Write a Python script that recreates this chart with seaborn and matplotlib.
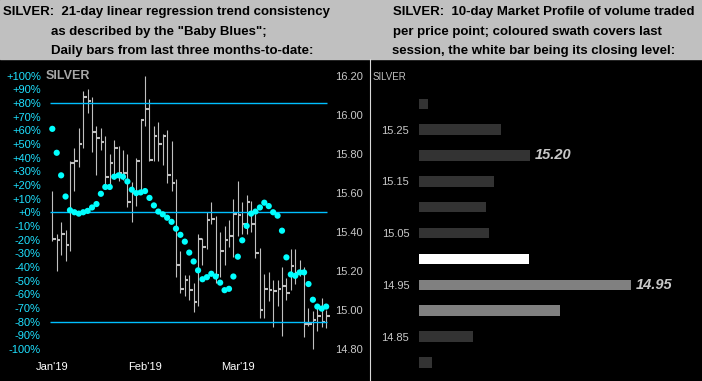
"""Silver: Baby Blues trend consistency and 10-day market profile."""

import matplotlib

matplotlib.use("Agg")
import matplotlib.pyplot as plt
import numpy as np
import seaborn as sns
from matplotlib.lines import Line2D
from matplotlib.patches import Rectangle

# daily sessions, Jan'19 .. end of Mar'19
highs = [
    15.61, 15.39, 15.45, 15.41, 15.76, 15.83, 15.93, 16.12, 16.13, 16.09,
    15.94, 15.93, 15.89, 15.80, 15.87, 15.84, 15.82, 15.80, 15.655, 15.78,
    15.98, 16.20, 16.08, 15.94, 15.96, 15.90, 15.92, 15.865, 15.67, 15.30,
    15.18, 15.18, 15.14, 15.39, 15.37, 15.50, 15.555, 15.48, 15.40, 15.43,
    15.46, 15.57, 15.66, 15.55, 15.59, 15.56, 15.49, 15.315, 15.185, 15.195,
    15.155, 15.155, 15.22, 15.165, 15.31, 15.31, 15.255, 15.22, 15.01, 14.995,
    15.01, 15.06, 15.00,
]
lows = [
    15.355, 15.20, 15.28, 15.25, 15.30, 15.61, 15.73, 15.83, 16.01, 15.81,
    15.69, 15.82, 15.645, 15.64, 15.67, 15.66, 15.665, 15.525, 15.45, 15.53,
    15.61, 15.94, 15.76, 15.76, 15.76, 15.74, 15.65, 15.61, 15.17, 15.085,
    15.07, 15.05, 14.99, 15.02, 15.23, 15.31, 15.44, 15.14, 15.17, 15.23,
    15.32, 15.27, 15.38, 15.39, 15.39, 15.40, 15.265, 14.96, 14.96, 15.045,
    14.915, 15.02, 14.865, 15.05, 15.10, 15.135, 15.175, 14.86, 14.92, 14.80,
    14.89, 14.915, 14.905,
]
closes = [
    15.365, 15.36, 15.39, 15.33, 15.75, 15.76, 15.85, 16.09, 16.07, 15.91,
    15.88, 15.86, 15.68, 15.75, 15.83, 15.70, 15.70, 15.555, 15.60, 15.76,
    15.97, 16.03, 15.77, 15.89, 15.85, 15.89, 15.69, 15.65, 15.23, 15.105,
    15.155, 15.10, 15.04, 15.365, 15.32, 15.46, 15.465, 15.18, 15.30, 15.36,
    15.38, 15.49, 15.485, 15.44, 15.55, 15.44, 15.29, 15.00, 15.105, 15.10,
    15.095, 15.105, 15.12, 15.085, 15.225, 15.19, 15.20, 14.93, 14.93, 14.95,
    14.97, 14.94, 14.97,
]
baby_blues = [
    61, 43.5, 27, 11.5, 1.5, 0, -1, 0, 1, 3.5,
    6, 13.5, 18.5, 18.5, 26, 27, 26, 22.5, 16.5, 14,
    14.5, 15.5, 10.5, 5, 0.5, -1.5, -4, -7, -12, -16.5,
    -21.5, -29.5, -36, -42.5, -49, -47.5, -45, -47, -51.5, -57,
    -56, -47, -32.5, -20.5, -10, -1, 0.5, 3.5, 7, 4.5,
    0, -2.5, -13.5, -33, -45.5, -46.5, -44, -44, -52.5, -64,
    -69, -70.5, -69,
]
month_ticks = [0, 21, 42]
month_labels = ["Jan'19", "Feb'19", "Mar'19"]
pct_ticks = list(range(-100, 101, 10))
price_ticks = [14.80, 15.00, 15.20, 15.40, 15.60, 15.80, 16.00, 16.20]
guide_levels = [80, 0, -80]

# 10-day market profile
profile_prices = ["15.30", "15.25", "15.20", "15.15", "15.10", "15.05",
                  "15.00", "14.95", "14.90", "14.85", "14.80"]
profile_volume = [4.1, 38.7, 52.3, 35.3, 31.5, 32.9, 51.8, 100, 66.5, 25.4, 6.0]
profile_labels = ["15.25", "15.15", "15.05", "14.95", "14.85"]
last_session = ["15.00", "14.95", "14.90"]
close_level = "15.00"
flagged_levels = ["15.20", "14.95"]

W, H = 702, 381
HEADER = 59
plt.rcParams["font.family"] = ["Liberation Sans", "DejaVu Sans"]

fig = plt.figure(figsize=(W / 100, H / 100), dpi=100, facecolor="black")
fig.patches.append(Rectangle((0, 1 - HEADER / H), 1, HEADER / H,
                             transform=fig.transFigure, color="#c0c0c0"))
fig.add_artist(Line2D([369.5 / W] * 2, [0, 1 - HEADER / H], color="#d8d8d8", lw=0.8))

head_kw = dict(fontsize=9.5, fontweight="bold", color="black", va="baseline")
for x, y, s in [
    (3, 15, "SILVER:  21-day linear regression trend consistency"),
    (51, 34.7, 'as described by the "Baby Blues";'),
    (51, 54.3, "Daily bars from last three months-to-date:"),
    (392.5, 15, "SILVER:  10-day Market Profile of volume traded"),
    (392.5, 34.7, "per price point; coloured swath covers last"),
    (391.7, 54.3, "session, the white bar being its closing level:"),
]:
    fig.text(x / W, 1 - y / H, s, **head_kw)

# ---- left panel: daily bars + Baby Blues ----
step = 4.417
left, right = 52.3 - 1.5 * step, 52.3 + 63.5 * step
top, bottom = 64.6, 359.9
ax = fig.add_axes([left / W, 1 - bottom / H, (right - left) / W, (bottom - top) / H])
ax2 = ax.twinx()
for a in (ax, ax2):
    a.set_facecolor("black")
    for sp in a.spines.values():
        sp.set_visible(False)
ax2.set_zorder(ax.get_zorder() - 1)
ax.patch.set_visible(False)
ax2.patch.set_facecolor("black")

days = np.arange(len(closes))
ax.set_xlim(-1.5, 63.5)
ax.set_ylim(-108, 108)
ax2.set_ylim(15.5 - 1.08 * 0.7, 15.5 + 1.08 * 0.7)

ax.hlines(guide_levels, -0.5, 62.2, color="#00bfff", lw=1.0, zorder=1)
ax2.vlines(days, lows, highs, color="#c0c0c0", lw=0.8)
ax2.hlines(closes, days, days + 0.8, color="#c0c0c0", lw=1.5)
sns.scatterplot(x=days, y=baby_blues, ax=ax, color="#00ffff", s=20,
                edgecolor="none", marker="o", zorder=3)

ax.set_yticks(pct_ticks)
ax.set_yticklabels([f"{v:+d}%" for v in pct_ticks])
ax.tick_params(axis="y", length=0, pad=3.5, labelsize=8, labelcolor="#1ee0ff")
ax.set_xticks(month_ticks)
ax.set_xticklabels(month_labels)
ax.tick_params(axis="x", length=0, pad=1.5, labelsize=8, labelcolor="white")
ax2.set_yticks(price_ticks)
ax2.set_yticklabels([f"{p:.2f}" for p in price_ticks])
ax2.tick_params(axis="y", length=0, pad=2, labelsize=8, labelcolor="#c8c8c8")
ax.text(-1.5, 100, "SILVER", fontsize=9, fontweight="bold", color="#a8a8a8",
        va="center", ha="left")
ax.set_ylabel("")
ax.set_xlabel("")

# ---- right panel: market profile ----
axr = fig.add_axes([419 / W, 0, (W - 419) / W, (H - HEADER) / H])
axr.set_facecolor("black")
for sp in axr.spines.values():
    sp.set_visible(False)

palette = {}
for p in profile_prices:
    if p == close_level:
        palette[p] = "#ffffff"
    elif p in last_session:
        palette[p] = "#808080"
    else:
        palette[p] = "#333333"

sns.barplot(x=profile_volume, y=profile_prices, hue=profile_prices,
            order=profile_prices, palette=palette, saturation=1, width=0.4,
            legend=False, ax=axr)
axr.set_xlim(0, 100 * 283 / 211.7)
axr.set_ylim(10.72, -1.73)
axr.set_yticks(range(len(profile_prices)))
axr.set_yticklabels([p if p in profile_labels else "" for p in profile_prices])
axr.tick_params(axis="y", length=0, pad=7, labelsize=8, labelcolor="#c8c8c8")
axr.set_xticks([])
axr.set_xlabel("")
axr.set_ylabel("")
for p in flagged_levels:
    i = profile_prices.index(p)
    axr.text(profile_volume[i] + 2.2, i, p, fontsize=10.5, fontweight="bold",
             fontstyle="italic", color="#c8c8c8", va="center", ha="left")
fig.text(373 / W, 1 - 77 / H, "SILVER", fontsize=7, color="#c0c0c0", va="center")

fig.savefig("out.png", dpi=100, facecolor=fig.get_facecolor())
